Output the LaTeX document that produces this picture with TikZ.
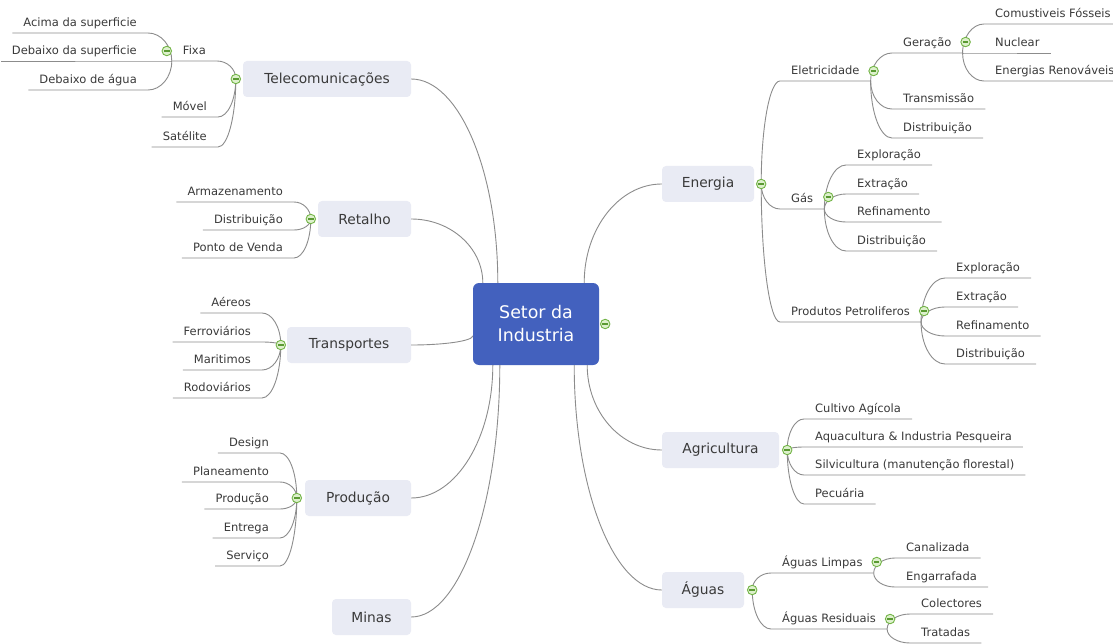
\documentclass[tikz,border=0pt]{standalone}
\usepackage{fontspec}
\setmainfont{DejaVu Sans}
\usetikzlibrary{calc}

\definecolor{linkgray}{HTML}{8C8C8C}
\definecolor{txt}{HTML}{3A3A3A}
\definecolor{topicfill}{HTML}{E9EBF4}
\definecolor{rootfill}{HTML}{4361BE}
\definecolor{foldline}{HTML}{72B446}
\definecolor{foldfill}{HTML}{DDF0CC}
\definecolor{foldbar}{HTML}{5A9A32}

% curved link: vertical tangent at the start, horizontal at the end
\newcommand\tlink[2]{\draw[link] (#1) .. controls ($(#1)!0.55!(#1|-#2)$) and ($(#2)!0.55!(#1|-#2)$) .. (#2);}
% link to an underlined label on the right, then its underline
\newcommand\rlink[2]{\draw[link] (#1) .. controls ($(#1)!0.55!(#1|-#2.south west)$) and ($(#2.south west)!0.55!(#1|-#2.south west)$) .. (#2.south west) -- (#2.south east);}
% link to an underlined label on the left, then its underline
\newcommand\llink[2]{\draw[link] (#1) .. controls ($(#1)!0.55!(#1|-#2.south east)$) and ($(#2.south east)!0.55!(#1|-#2.south east)$) .. (#2.south east) -- (#2.south west);}

\tikzset{
  link/.style={draw=linkgray, line width=0.9pt},
  leaf/.style={text=txt, font=\fontsize{11.5}{13}\selectfont, inner xsep=11pt, inner ysep=0pt, text depth=6.5pt, text height=9pt},
  rleaf/.style={leaf, anchor=south west},
  lleaf/.style={leaf, anchor=south east},
  topic/.style={fill=topicfill, rounded corners=4pt, text=txt, font=\fontsize{13.8}{16}\selectfont, minimum height=36pt, inner sep=0pt},
  root/.style={fill=rootfill, rounded corners=6pt, text=white, font=\fontsize{17.4}{23}\selectfont, minimum width=126pt, minimum height=82pt, align=center, inner sep=0pt},
  fold/.style={circle, draw=foldline, fill=foldfill, line width=0.9pt, minimum size=9.5pt, inner sep=0pt,
    path picture={\draw[foldbar, line width=1.3pt] ([xshift=2pt]path picture bounding box.west) -- ([xshift=-2pt]path picture bounding box.east);}},
}

\begin{document}
\begin{tikzpicture}[x=1pt, y=-1pt]
\fill[white] (0,0) rectangle (1113,644);
\useasboundingbox (0,0) rectangle (1113,644);

% central topic
\node[root] (c) at (536,324) {Setor da\\Industria};

% main topics
\node[topic, minimum width=168pt] (tel) at (327,79) {Telecomunicações};
\node[topic, minimum width=93pt]  (ret) at (364.5,219) {Retalho};
\node[topic, minimum width=124pt] (tra) at (349,345) {Transportes};
\node[topic, minimum width=106pt] (pro) at (358,498) {Produção};
\node[topic, minimum width=79pt]  (min) at (371.5,617) {Minas};
\node[topic, minimum width=92pt]  (ene) at (708,184) {Energia};
\node[topic, minimum width=117pt] (agr) at (720.5,450) {Agricultura};
\node[topic, minimum width=82pt]  (agu) at (703,590) {Águas};

% attachment points on the central topic
\coordinate (c-tel) at ([xshift=25pt]c.north west);
\coordinate (c-ret) at ([xshift=10pt]c.north west);
\coordinate (c-tra) at ([yshift=-53pt]c.north west);
\coordinate (c-pro) at ([xshift=20pt]c.south west);
\coordinate (c-min) at ([xshift=27pt]c.south west);
\coordinate (c-ene) at ([xshift=-15pt]c.north east);
\coordinate (c-agr) at ([xshift=-12pt]c.south east);
\coordinate (c-agu) at ([xshift=-25pt]c.south east);

% junctions of the main topics
\coordinate (j-tel) at ([xshift=-7pt]tel.west);
\coordinate (j-ret) at ([xshift=-7pt]ret.west);
\coordinate (j-tra) at ([xshift=-6pt]tra.west);
\coordinate (j-pro) at ([xshift=-8pt]pro.west);
\coordinate (j-ene) at ([xshift=7pt]ene.east);
\coordinate (j-agr) at ([xshift=8pt]agr.east);
\coordinate (j-agu) at ([xshift=8pt]agu.east);

% ---- Telecomunicações
\node[lleaf] (fixa) at (217,61) {Fixa};
\node[lleaf] (aci) at (148,33) {Acima da superficie};
\node[lleaf] (dbs) at (148,61) {Debaixo da superficie};
\node[lleaf] (dba) at (148,90) {Debaixo de água};
\node[lleaf] (mov) at (218,117) {Móvel};
\node[lleaf] (sat) at (218,147) {Satélite};

% ---- Retalho
\node[lleaf] (arm) at (294,202) {Armazenamento};
\node[lleaf] (rdis) at (294,230) {Distribuição};
\node[lleaf] (pon) at (294,258) {Ponto de Venda};

% ---- Transportes
\node[lleaf] (aer) at (262,313) {Aéreos};
\node[lleaf] (fer) at (262,342) {Ferroviários};
\node[lleaf] (mar) at (262,370) {Maritimos};
\node[lleaf] (rod) at (262,398) {Rodoviários};

% ---- Produção
\node[lleaf] (des) at (280,453) {Design};
\node[lleaf] (pla) at (280,482) {Planeamento};
\node[lleaf] (prd) at (280,509) {Produção};
\node[lleaf] (ent) at (280,538) {Entrega};
\node[lleaf] (ser) at (280,566) {Serviço};

% ---- Energia
\node[rleaf] (ele) at (780,81) {Eletricidade};
\node[rleaf] (ger) at (892,53) {Geração};
\node[rleaf] (cf)  at (984,24) {Comustiveis Fósseis};
\node[rleaf] (nuc) at (984,53) {Nuclear};
\node[rleaf] (ren) at (984,81) {Energias Renováveis};
\node[rleaf] (trm) at (892,109) {Transmissão};
\node[rleaf] (edis) at (892,138) {Distribuição};
\node[rleaf] (gas) at (780,209) {Gás};
\node[rleaf] (gexp) at (846,165) {Exploração};
\node[rleaf] (gext) at (846,194) {Extração};
\node[rleaf] (gref) at (846,222) {Refinamento};
\node[rleaf] (gdis) at (846,251) {Distribuição};
\node[rleaf] (pp)  at (780,322) {Produtos Petroliferos};
\node[rleaf] (pexp) at (945,278) {Exploração};
\node[rleaf] (pext) at (945,307) {Extração};
\node[rleaf] (pref) at (945,336) {Refinamento};
\node[rleaf] (pdis) at (945,364) {Distribuição};

% ---- Agricultura
\node[rleaf] (cul) at (804,419) {Cultivo Agícola};
\node[rleaf] (aqu) at (804,447) {Aquacultura \& Industria Pesqueira};
\node[rleaf] (sil) at (804,475) {Silvicultura (manutenção florestal)};
\node[rleaf] (pec) at (804,504) {Pecuária};

% ---- Águas
\node[rleaf] (alim) at (771,573) {Águas Limpas};
\node[rleaf] (can) at (895,558) {Canalizada};
\node[rleaf] (eng) at (895,587) {Engarrafada};
\node[rleaf] (ares) at (771,629) {Águas Residuais};
\node[rleaf] (col) at (910,614) {Colectores};
\node[rleaf] (trt) at (910,643) {Tratadas};

% ---- links from the central topic
\tlink{c-tel}{tel.east}
\tlink{c-ret}{ret.east}
\tlink{c-tra}{tra.east}
\tlink{c-pro}{pro.east}
\tlink{c-min}{min.east}
\tlink{c-ene}{ene.west}
\tlink{c-agr}{agr.west}
\tlink{c-agu}{agu.west}

% ---- links of the left branches
\llink{j-tel}{fixa}
\llink{j-tel}{mov}
\llink{j-tel}{sat}
\llink{fixa.south west}{aci}
\llink{fixa.south west}{dbs}
\llink{fixa.south west}{dba}
\llink{j-ret}{arm}
\llink{j-ret}{rdis}
\llink{j-ret}{pon}
\llink{j-tra}{aer}
\llink{j-tra}{fer}
\llink{j-tra}{mar}
\llink{j-tra}{rod}
\llink{j-pro}{des}
\llink{j-pro}{pla}
\llink{j-pro}{prd}
\llink{j-pro}{ent}
\llink{j-pro}{ser}

% ---- links of the right branches
\rlink{j-ene}{ele}
\rlink{j-ene}{gas}
\rlink{j-ene}{pp}
\rlink{ele.south east}{ger}
\rlink{ele.south east}{trm}
\rlink{ele.south east}{edis}
\rlink{ger.south east}{cf}
\rlink{ger.south east}{nuc}
\rlink{ger.south east}{ren}
\rlink{gas.south east}{gexp}
\rlink{gas.south east}{gext}
\rlink{gas.south east}{gref}
\rlink{gas.south east}{gdis}
\rlink{pp.south east}{pexp}
\rlink{pp.south east}{pext}
\rlink{pp.south east}{pref}
\rlink{pp.south east}{pdis}
\rlink{j-agr}{cul}
\rlink{j-agr}{aqu}
\rlink{j-agr}{sil}
\rlink{j-agr}{pec}
\rlink{j-agu}{alim}
\rlink{j-agu}{ares}
\rlink{alim.south east}{can}
\rlink{alim.south east}{eng}
\rlink{ares.south east}{col}
\rlink{ares.south east}{trt}

% ---- collapse markers
\node[fold] (f-c)   at ([xshift=6pt]c.east) {};
\node[fold] (f-tel) at (j-tel) {};
\node[fold] (f-ret) at (j-ret) {};
\node[fold] (f-tra) at (j-tra) {};
\node[fold] (f-pro) at (j-pro) {};
\node[fold] (f-ene) at (j-ene) {};
\node[fold] (f-agr) at (j-agr) {};
\node[fold] (f-agu) at (j-agu) {};
\node[fold] (f-fixa) at ([shift={(-5pt,10pt)}]fixa.south west) {};
\node[fold] (f-ele)  at ([shift={(3pt,10pt)}]ele.south east) {};
\node[fold] (f-ger)  at ([shift={(3pt,11pt)}]ger.south east) {};
\node[fold] (f-gas)  at ([shift={(4pt,12pt)}]gas.south east) {};
\node[fold] (f-pp)   at ([shift={(3pt,11pt)}]pp.south east) {};
\node[fold] (f-alim) at ([shift={(3pt,11pt)}]alim.south east) {};
\node[fold] (f-ares) at ([shift={(3pt,10pt)}]ares.south east) {};
\end{tikzpicture}
\end{document}
